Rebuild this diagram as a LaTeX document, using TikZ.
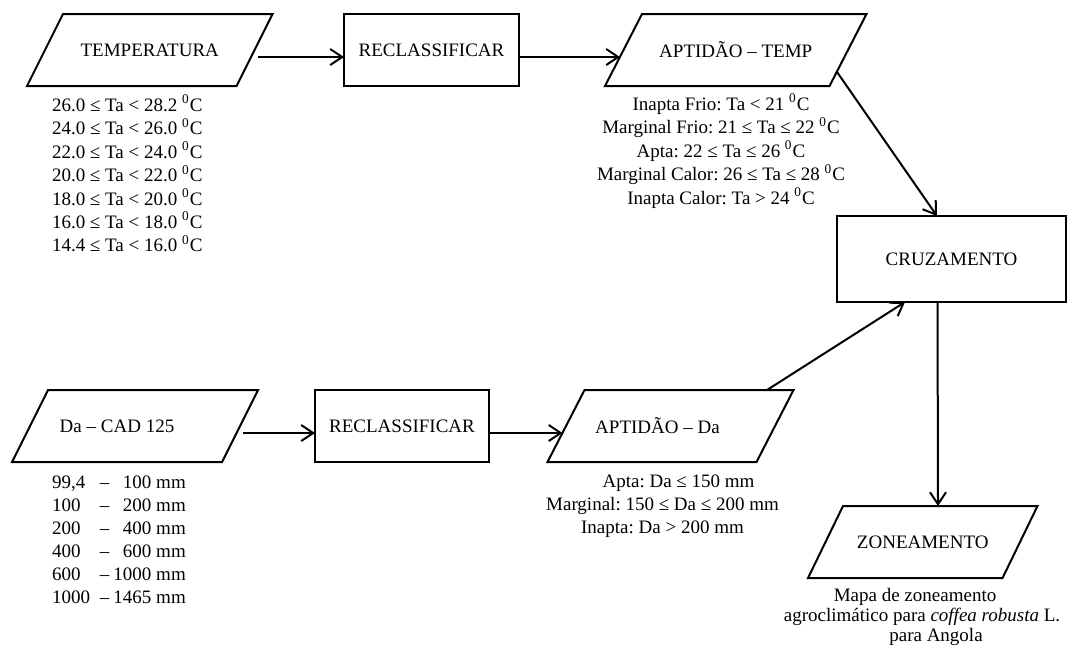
\documentclass[tikz,border=0pt]{standalone}
\usepackage{fontspec}
\setmainfont{Liberation Serif}
\usetikzlibrary{calc,arrows.meta}
\frenchspacing
\newcommand\dg{\textsuperscript{0}C}
\newcommand\parashape[2]{\draw[line width=1pt, line join=miter]
  ($(#1.south west)+(-#2,0)$) -- ($(#1.north west)+(#2,0)$) --
  ($(#1.north east)+(#2,0)$) -- ($(#1.south east)+(-#2,0)$) -- cycle;}
\begin{document}
\begin{tikzpicture}[x=0.5pt,y=-0.5pt,
  font=\fontsize{9.5}{11.5}\selectfont,
  core/.style={inner sep=0pt, outer sep=0pt, minimum height=36pt},
  blk/.style={draw, line width=1pt, inner sep=0pt, outer sep=0pt},
  lst/.style={inner sep=0pt, outer sep=0pt},
  arr/.style={line width=1pt, -{Straight Barb[length=6pt,width=8pt,line width=1pt]}}]
\useasboundingbox (0,0) rectangle (1068,655);

% shapes
\node[core, minimum width=104.75pt] (t) at (149.75,50) {TEMPERATURA};
\parashape{t}{18}
\node[blk, minimum width=87.5pt, minimum height=36pt] (r1) at (431.5,50) {RECLASSIFICAR};
\node[core, minimum width=112.25pt] (at) at (735.75,50) {APTIDÃO – TEMP};
\parashape{at}{18.5}
\node[blk, minimum width=114.5pt, minimum height=43pt] (c) at (951.5,259) {CRUZAMENTO};
\node[core, minimum width=105pt] (d) at (135,426) {Da – CAD 125\hspace*{18pt}};
\parashape{d}{18}
\node[blk, minimum width=87pt, minimum height=36pt] (r2) at (402,426) {RECLASSIFICAR};
\node[core, minimum width=104.5pt] (ad) at (670.5,426) {APTIDÃO – Da\hspace*{13pt}};
\parashape{ad}{18.5}
\node[core, minimum width=97.25pt] (z) at (922.75,542) {ZONEAMENTO};
\parashape{z}{17.5}

% lists
\node[lst, anchor=north west] (tl) at (52,95) {\begin{tabular}{@{}l@{}}
26.0 ≤ Ta < 28.2 \dg\\
24.0 ≤ Ta < 26.0 \dg\\
22.0 ≤ Ta < 24.0 \dg\\
20.0 ≤ Ta < 22.0 \dg\\
18.0 ≤ Ta < 20.0 \dg\\
16.0 ≤ Ta < 18.0 \dg\\
14.4 ≤ Ta < 16.0 \dg
\end{tabular}};
\node[lst, anchor=north] (atl) at (721,94) {\begin{tabular}{@{}c@{}}
Inapta Frio: Ta < 21 \dg\\
Marginal Frio: 21 ≤ Ta ≤ 22 \dg\\
Apta: 22 ≤ Ta ≤ 26 \dg\\
Marginal Calor: 26 ≤ Ta ≤ 28 \dg\\
Inapta Calor: Ta > 24 \dg
\end{tabular}};
\node[lst, anchor=north west] (dl) at (52,472) {\begin{tabular}{@{}p{24pt}@{–\hspace{2pt}}r@{~mm}}
99,4 & 100\\
100 & 200\\
200 & 400\\
400 & 600\\
600 & 1000\\
1000 & 1465
\end{tabular}};
\node[lst, anchor=north] (adl) at (662.5,471) {\begin{tabular}{@{}c@{}}
\hspace*{16pt}Apta: Da ≤ 150 mm\\
Marginal: 150 ≤ Da ≤ 200 mm\\
Inapta: Da > 200 mm
\end{tabular}};
\node[lst, anchor=north] (zl) at (922,587) {\fontsize{9.5}{10}\selectfont\begin{tabular}{@{}c@{}}
Mapa de zoneamento\hspace*{7pt}\\
agroclimático para \textit{coffea robusta} L.\\
\hspace*{14pt}para Angola
\end{tabular}};

% connectors
\draw[arr] ($(t.east)+(3,7)$) -- ($(r1.west)+(0,7)$);
\draw[arr] ($(r1.east)+(0,7)$) -- ($(at.west)+(-3.5,7)$);
\draw[arr] ($(at.east)+(-11,22)$) -- ($(c.north)+(-14.5,0)$);
\draw[arr] ($(d.east)+(3,7)$) -- ($(r2.west)+(0,7)$);
\draw[arr] ($(r2.east)+(0,7)$) -- ($(ad.west)+(-3.5,7)$);
\draw[arr] ($(ad.north east)+(-8,0)$) -- ($(c.south)+(-46.5,0)$);
\draw[arr] ($(c.south)+(-14,0)$) -- ($(z.north)+(15.25,0)$);
\end{tikzpicture}
\end{document}
